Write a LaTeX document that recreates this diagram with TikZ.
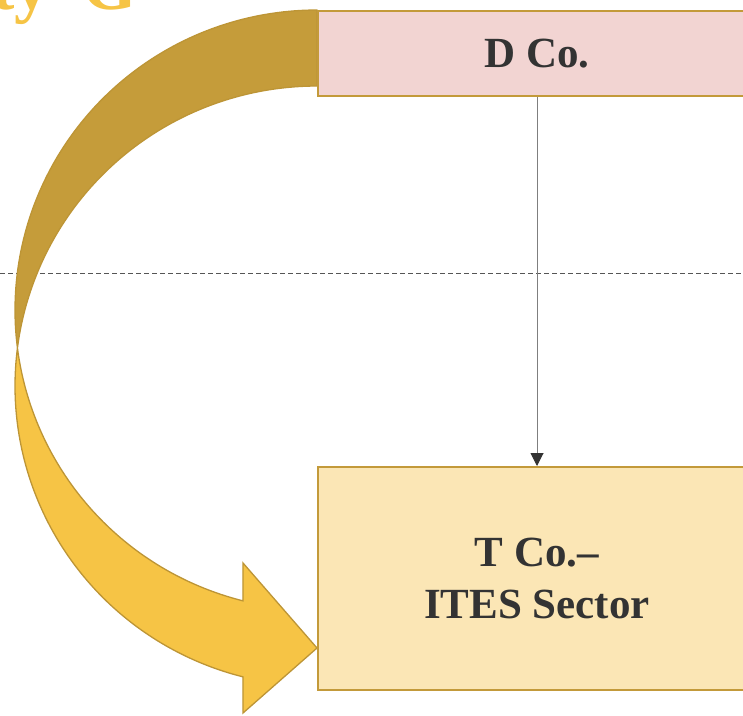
\documentclass[tikz,border=0pt]{standalone}
\usepackage{fontspec}
\setmainfont{Liberation Serif}
\usetikzlibrary{arrows.meta}
\definecolor{dboxfill}{HTML}{F2D4D2}
\definecolor{tboxfill}{HTML}{FBE6B5}
\definecolor{boxborder}{HTML}{C39A3A}
\definecolor{arrowdark}{HTML}{C59C3A}
\definecolor{arrowlight}{HTML}{F6C445}
\definecolor{arrowline}{HTML}{BD9536}
\definecolor{titlecol}{HTML}{F6C445}
\definecolor{textcol}{HTML}{333333}
\definecolor{dashcol}{HTML}{555555}
\definecolor{conncol}{HTML}{7F7F7F}
\tikzset{
  box/.style={draw=boxborder, line width=2pt, rectangle, anchor=north west,
    minimum width=438pt, inner sep=0pt, text=textcol, align=center,
    font=\fontsize{43}{52}\selectfont\bfseries},
  conn/.style={draw=conncol, line width=1pt, -{Triangle[length=13pt,width=13pt,color=textcol]}},
  divider/.style={draw=dashcol, line width=0.9pt, dash pattern=on 5pt off 3pt},
  backface/.style={fill=arrowdark, draw=arrowline, line width=1.3pt, line join=round},
  frontface/.style={fill=arrowlight, draw=arrowline, line width=1.3pt, line join=miter},
}
\begin{document}
\begin{tikzpicture}[x=1pt,y=-1pt]
\useasboundingbox (0,0) rectangle (743,715);
% title fragment
\node[anchor=base west, inner sep=0pt, text=titlecol, font=\fontsize{70}{80}\selectfont\bfseries] (title) at (-9,9) {ty\hspace{33pt}G};
% dashed divider
\coordinate (dl) at (0,273);
\coordinate (dr) at (743,273);
\draw[divider] (dl) -- (dr);
% curved arrow, back face
\path[backface] plot[domain=90:187.28, samples=90, variable=\t] ({317+302*cos(\t)},{310-300*sin(\t)})
  -- plot[domain=172.72:90, samples=90, variable=\t] ({317+302*cos(\t)},{386-300*sin(\t)}) -- cycle;
% curved arrow, front face
\path[frontface] plot[domain=172.72:255.8, samples=90, variable=\t] ({317+302*cos(\t)},{386-300*sin(\t)})
  -- (243,713) -- (317,648) -- (243,563)
  -- plot[domain=255.8:187.28, samples=90, variable=\t] ({317+302*cos(\t)},{310-300*sin(\t)}) -- cycle;
% boxes
\node[box, fill=dboxfill, minimum height=85pt] (dco) at (317,10) {D Co.};
\node[box, fill=tboxfill, minimum height=223pt] (tco) at (317,466) {T Co.–\\ITES Sector};
% connector
\draw[conn] (dco.south) -- (tco.north);
\end{tikzpicture}
\end{document}
